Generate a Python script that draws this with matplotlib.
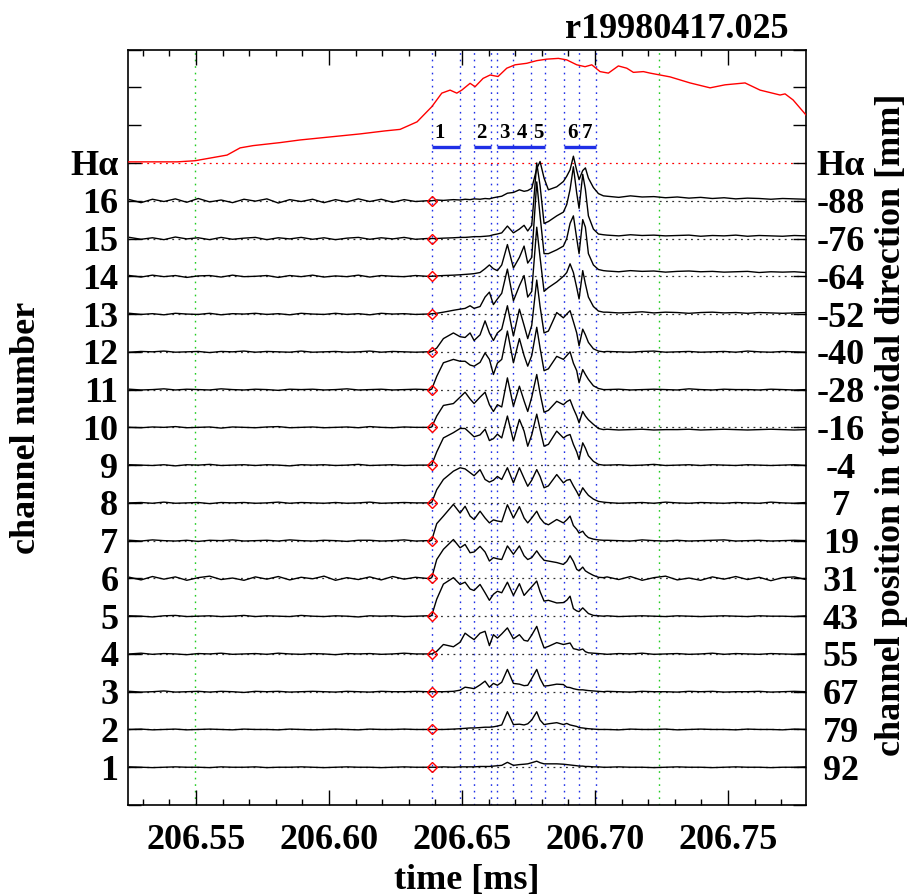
import numpy as np
import matplotlib
matplotlib.use('Agg')
import matplotlib.pyplot as plt
from matplotlib.ticker import FixedLocator, MultipleLocator
import matplotlib.transforms as mtransforms

plt.rcParams['font.family'] = ['Liberation Serif', 'DejaVu Serif']
plt.rcParams['font.weight'] = 'bold'

# ---------------- data ----------------
shot = 'r19980417.025'
x_ticks = [206.55, 206.60, 206.65, 206.70, 206.75]
left_labels = ['1', '2', '3', '4', '5', '6', '7', '8', '9', '10', '11', '12', '13', '14', '15', '16', 'Hα']
right_labels = ['92', '79', '67', '55', '43', '31', '19', '7', '-4', '-16', '-28', '-40', '-52', '-64', '-76', '-88', 'Hα']

blue_t = [206.63859, 206.64925, 206.65451, 206.66077, 206.66303, 206.66930, 206.67581,
          206.68120, 206.68847, 206.69398, 206.70025]
green_t = [206.54962, 206.72391]
burst_labels = ['1', '2', '3', '4', '5', '6', '7']
burst_label_t = [206.64148, 206.65739, 206.66591, 206.67243, 206.67870, 206.69148, 206.69687]
burst_bar_start = [206.63859, 206.65451, 206.66303, 206.68847]
burst_bar_end = [206.64925, 206.66077, 206.68120, 206.70025]

# H-alpha (amplitude above its baseline, in channel spacings)
ha_t = [206.52444, 206.54286, 206.54962, 206.56165, 206.56654, 206.57143, 206.58158, 206.58910,
        206.60038, 206.61165, 206.62105, 206.62669, 206.63308, 206.63861, 206.64237, 206.64549,
        206.64801, 206.64989, 206.65301, 206.65489, 206.65789, 206.66053, 206.66353, 206.66680,
        206.66992, 206.67432, 206.67808, 206.68184, 206.68620, 206.68936, 206.69312, 206.69624,
        206.69876, 206.70188, 206.70500, 206.70876, 206.71192, 206.71440, 206.71816, 206.72068,
        206.72820, 206.73571, 206.74323, 206.74887, 206.75639, 206.76203, 206.76955, 206.77143,
        206.77444, 206.77932]
ha_v = [0.03, 0.03, 0.06, 0.21, 0.40, 0.46, 0.54, 0.61,
        0.69, 0.77, 0.85, 0.89, 1.09, 1.49, 1.85, 1.93,
        1.85, 1.93, 2.11, 2.02, 2.24, 2.33, 2.29, 2.51,
        2.60, 2.64, 2.71, 2.75, 2.77, 2.73, 2.60, 2.55,
        2.60, 2.42, 2.38, 2.57, 2.51, 2.40, 2.42, 2.38,
        2.28, 2.12, 1.99, 2.07, 2.12, 1.93, 1.80, 1.83,
        1.67, 1.27]

# common time samples
pre_t = [206.5250, 206.5293, 206.5336, 206.5379, 206.5422, 206.5465, 206.5508, 206.5551,
         206.5594, 206.5637, 206.5680, 206.5723, 206.5766, 206.5809, 206.5852, 206.5895,
         206.5938, 206.5981, 206.6024, 206.6067, 206.6110, 206.6153, 206.6196, 206.6239,
         206.6282, 206.6325, 206.6368]
event_t = [206.63797, 206.63859, 206.64047, 206.64298, 206.64674, 206.64925, 206.65113,
           206.65301, 206.65451, 206.65676, 206.65864, 206.66027, 206.66178, 206.66328,
           206.66491, 206.66704, 206.66930, 206.67155, 206.67331, 206.67468, 206.67619,
           206.67807, 206.67932, 206.68082, 206.68245, 206.68559, 206.68809, 206.68935,
           206.69060, 206.69185, 206.69310, 206.69398, 206.69536, 206.69636, 206.69749,
           206.69937, 206.70125, 206.70313]
post_t = [206.7045, 206.7089, 206.7133, 206.7177, 206.7221, 206.7265, 206.7309, 206.7353,
          206.7397, 206.7441, 206.7485, 206.7529, 206.7573, 206.7617, 206.7661, 206.7705,
          206.7749, 206.7793]

# per channel: quiet-region values (hundredths of channel spacing) and event values
pre_ch1 = [1,0,-1,0,1,0,0,-1,1,0,0,1,-1,0,0,1,0,-1,0,1,0,0,-1,0,1,0,0]
ev_ch1 = [0,0,0,0.01,0,0.01,0.01,0.01,0.01,0.02,0.02,0.02,0.03,0.04,0.05,0.13,0.05,0.07,0.08,
          0.09,0.12,0.16,0.12,0.09,0.09,0.09,0.08,0.07,0.06,0.05,0.04,0.03,0.03,0.02,0.02,0.01,0.01,0]
post_ch1 = [0,1,0,0,-1,0,1,0,0,-1,0,1,0,0,-1,0,0,1]

pre_ch2 = [0,1,-1,0,1,-1,0,1,0,-1,1,0,0,-1,1,0,-1,0,1,0,-1,1,0,0,1,0,0]
ev_ch2 = [0,0,0,0,0.01,0.02,0.03,0.04,0.04,0.05,0.06,0.06,0.07,0.09,0.12,0.47,0.13,0.14,0.12,
          0.15,0.25,0.47,0.25,0.13,0.15,0.18,0.13,0.16,0.12,0.1,0.08,0.05,0.04,0.03,0.02,0.01,0,0]
post_ch2 = [0,-1,1,0,0,1,-1,0,1,0,0,-1,1,0,0,-1,1,0]

pre_ch3 = [1,-1,0,2,-1,0,1,-1,1,0,-2,1,0,1,-1,0,1,0,-1,1,0,-1,1,0,0,1,0]
ev_ch3 = [0,0,0,0,0.01,0.04,0.12,0.1,0.08,0.18,0.28,0.12,0.22,0.17,0.25,0.59,0.22,0.2,0.16,
          0.17,0.35,0.59,0.35,0.15,0.16,0.2,0.19,0.12,0.11,0.08,0.06,0.05,0.05,0.04,0.03,0.02,0.01,0]
post_ch3 = [1,0,-1,1,0,0,-1,1,0,1,-1,0,0,1,-1,0,1,0]

pre_ch4 = [0,2,-1,1,0,-2,1,0,2,-1,0,1,-1,2,0,-1,1,0,-2,1,0,1,-1,0,2,0,0]
ev_ch4 = [0,0,0.07,0.25,0.19,0.31,0.55,0.45,0.38,0.55,0.6,0.22,0.51,0.42,0.53,0.69,0.4,0.51,0.36,
          0.34,0.5,0.73,0.45,0.16,0.2,0.3,0.25,0.27,0.29,0.14,0.12,0.1,0.13,0.06,0.03,0.02,0.01,0]
post_ch4 = [-1,1,0,2,-1,0,1,-1,0,2,-1,1,0,-1,1,0,-1,1]

pre_ch5 = [1,0,-2,1,2,-1,0,1,-1,0,2,-1,1,0,-1,2,0,-1,1,0,-2,1,0,1,-1,0,1]
ev_ch5 = [0,0.02,0.45,0.85,1.02,0.84,0.9,0.72,0.68,0.84,0.62,0.42,0.58,0.66,0.62,0.9,0.55,0.86,0.55,
          0.66,0.78,0.93,0.65,0.4,0.42,0.35,0.36,0.42,0.53,0.2,0.14,0.12,0.22,0.15,0.07,0.02,0.01,0]
post_ch5 = [1,-1,0,1,0,-1,1,0,-1,0,1,0,-1,1,0,0,-1,1]

pre_ch6 = [3,-4,5,-2,4,-5,2,6,-3,1,-5,4,-2,5,-4,3,-1,6,-5,2,-3,4,-4,5,-2,3,0]
ev_ch6 = [0,0.02,0.5,0.77,1.03,0.81,0.9,0.68,0.7,0.85,0.7,0.46,0.55,0.52,0.5,0.86,0.64,0.86,0.6,
          0.5,0.55,0.73,0.6,0.48,0.46,0.42,0.37,0.45,0.6,0.45,0.24,0.2,0.3,0.2,0.15,0.08,0.03,0.02]
post_ch6 = [4,-3,5,-5,2,6,-4,1,-5,4,-2,5,-3,3,-6,2,4,-3]

pre_ch7 = [1,-1,2,0,-1,1,-2,1,0,2,-1,0,1,-1,2,0,-1,1,0,-2,1,1,-1,0,2,-1,0]
ev_ch7 = [0,0.01,0.45,0.65,0.96,0.73,0.91,0.65,0.56,0.78,0.6,0.47,0.55,0.52,0.5,0.95,0.6,0.9,0.6,
          0.47,0.6,0.78,0.6,0.47,0.42,0.56,0.47,0.55,0.65,0.4,0.3,0.2,0.25,0.15,0.08,0.04,0.02,0.01]
post_ch7 = [1,0,-1,2,0,-1,1,-1,0,1,2,-1,0,1,-1,0,1,0]

pre_ch8 = [0,1,-1,2,-1,0,1,-2,1,0,1,-1,0,2,-1,1,0,-1,1,-1,0,2,-1,0,1,0,0]
ev_ch8 = [0,0.01,0.35,0.62,0.84,0.93,0.9,0.8,0.72,0.88,0.62,0.55,0.6,0.7,0.62,0.93,0.53,0.93,0.65,
          0.44,0.6,0.88,0.7,0.4,0.45,0.75,0.53,0.6,0.62,0.45,0.3,0.18,0.4,0.3,0.2,0.1,0.04,0.02]
post_ch8 = [1,-1,0,1,-1,2,0,-1,1,0,-1,1,0,-1,2,0,-1,1]

pre_ch9 = [1,0,-1,1,-2,1,0,2,-1,0,1,-1,1,0,-2,1,0,1,-1,0,2,-1,0,1,-1,0,0]
ev_ch9 = [0,0.01,0.35,0.72,0.86,0.97,0.97,0.85,0.75,0.8,0.95,0.65,0.7,0.82,0.72,1.3,0.64,1.21,0.9,
          0.5,0.8,1.35,0.95,0.5,0.55,0.9,0.72,0.78,0.81,0.55,0.35,0.15,0.59,0.45,0.25,0.1,0.02,0]
post_ch9 = [0,1,-1,0,2,-1,0,1,-1,1,0,-1,1,0,-1,0,1,-1]

pre_ch10 = [0,-1,1,0,2,-1,0,1,-2,1,0,-1,1,2,-1,0,1,-1,0,1,-1,2,0,-1,1,0,0]
ev_ch10 = [0,0.01,0.3,0.58,0.63,0.8,0.93,0.75,0.63,0.8,0.93,0.6,0.42,0.6,0.54,1.31,0.56,1.09,0.7,
           0.42,0.8,1.4,0.9,0.4,0.45,0.69,0.6,0.68,0.73,0.5,0.3,0.12,0.42,0.3,0.2,0.08,-0.03,-0.06]
post_ch10 = [-5,-7,-6,-5,-7,-6,-6,-5,-7,-6,-5,-6,-7,-6,-5,-6,-7,-6]

pre_ch11 = [1,-1,0,2,-1,1,0,-1,2,0,-1,1,0,-2,1,0,1,-1,0,2,-1,0,1,-1,0,1,0]
ev_ch11 = [0,0.01,0.35,0.71,0.8,0.75,0.75,0.65,0.62,0.72,0.97,0.8,0.4,0.7,0.8,1.55,0.71,1.35,0.9,
           0.62,0.9,1.65,1.1,0.5,0.55,0.88,0.8,0.9,1.0,0.7,0.5,0.18,0.53,0.4,0.27,0.1,0.03,0]
post_ch11 = [0,1,-1,0,1,0,-1,2,0,-1,1,0,0,-1,1,0,-1,0]

pre_ch12 = [-1,1,0,2,-1,0,1,-2,1,0,2,-1,1,0,-1,2,-1,0,1,-1,0,2,-1,1,0,-1,0]
ev_ch12 = [0,0.01,0.1,0.35,0.5,0.4,0.38,0.5,0.3,0.45,0.82,0.5,0.3,0.5,0.6,1.22,0.42,1.13,0.7,
           0.35,0.7,1.9,1.2,0.5,0.55,1.04,0.9,1.0,1.09,0.8,0.5,0.16,0.6,0.45,0.25,0.08,0.02,0]
post_ch12 = [1,0,-1,1,2,-1,0,1,-1,0,1,-1,2,0,-1,1,0,-1]

pre_ch13 = [2,-1,1,-2,2,0,-1,2,-2,1,0,2,-1,1,-2,2,0,-1,2,-1,1,-2,2,0,1,-1,0]
ev_ch13 = [0,0.01,0.02,0.05,0.1,0.13,0.15,0.22,0.15,0.2,0.45,0.58,0.25,0.4,0.55,1.19,0.35,0.75,1.02,
           0.45,0.6,2.3,1.5,0.6,0.7,0.85,1.0,1.1,1.33,1.1,0.7,0.4,1.15,0.8,0.45,0.2,0.08,0.05]
post_ch13 = [5,3,4,6,3,5,4,2,4,5,3,4,2,4,3,2,3,4]

pre_ch14 = [2,-2,3,-1,2,-3,1,2,-2,3,-1,0,2,-3,2,-1,3,-2,1,-1,3,-2,2,0,-1,2,0]
ev_ch14 = [0,0,0.01,0.02,0.03,0.04,0.05,0.06,0.07,0.1,0.2,0.3,0.2,0.15,0.3,0.84,0.22,0.5,0.8,
           0.35,0.5,2.5,1.6,0.6,0.6,0.7,0.8,1.0,1.4,1.6,1.0,0.6,1.5,1.3,0.6,0.3,0.18,0.15]
post_ch14 = [14,12,15,13,14,11,13,14,12,13,11,12,13,10,12,11,12,10]

pre_ch15 = [3,-2,2,-3,4,-1,2,-3,3,-2,1,3,-3,2,-1,3,-2,2,-3,1,3,-2,2,-1,3,-2,0]
ev_ch15 = [0,0,0,0.01,0.02,0.03,0.03,0.04,0.05,0.05,0.06,0.07,0.1,0.12,0.15,0.33,0.15,0.25,0.35,
           0.2,0.35,2.0,1.4,0.4,0.45,0.6,0.7,0.9,1.3,1.9,1.2,0.8,1.7,1.3,0.6,0.25,0.12,0.1]
post_ch15 = [9,7,10,8,9,7,8,9,6,8,7,9,6,8,7,6,8,7]

pre_ch16 = [3,-5,4,-2,5,-4,6,-3,2,-5,4,-1,5,-6,3,-2,4,-5,3,-3,5,-2,4,-4,3,-2,0]
ev_ch16 = [0,0,0.02,0.01,0.03,0.02,0.04,0.03,0.05,0.04,0.06,0.05,0.08,0.1,0.12,0.2,0.22,0.29,0.25,
           0.27,0.33,0.85,1.04,0.6,0.29,0.37,0.51,0.65,0.82,1.18,0.8,0.56,0.8,0.87,0.6,0.35,0.19,0.13]
post_ch16 = [12,9,13,10,11,8,10,7,9,6,8,5,7,6,4,6,5,4]

pre_all = [pre_ch1, pre_ch2, pre_ch3, pre_ch4, pre_ch5, pre_ch6, pre_ch7, pre_ch8,
           pre_ch9, pre_ch10, pre_ch11, pre_ch12, pre_ch13, pre_ch14, pre_ch15, pre_ch16]
ev_all = [ev_ch1, ev_ch2, ev_ch3, ev_ch4, ev_ch5, ev_ch6, ev_ch7, ev_ch8,
          ev_ch9, ev_ch10, ev_ch11, ev_ch12, ev_ch13, ev_ch14, ev_ch15, ev_ch16]
post_all = [post_ch1, post_ch2, post_ch3, post_ch4, post_ch5, post_ch6, post_ch7, post_ch8,
            post_ch9, post_ch10, post_ch11, post_ch12, post_ch13, post_ch14, post_ch15, post_ch16]

# ---------------- figure ----------------
W, H = 907, 896
fig = plt.figure(figsize=(W / 100, H / 100), dpi=100)
ax = fig.add_axes([128 / W, 1 - 805 / H, (806 - 128) / W, (805 - 49.7) / H])
ax.set_xlim(206.5244, 206.7793)
ax.set_ylim(0, 20)

FS = 26
blue = '#1f2fe6'
green = '#22cc22'

for t in green_t:
    ax.axvline(t, color=green, lw=1.0, ls=(0, (1.2, 3.5)), zorder=1)
for t in blue_t:
    ax.axvline(t, color=blue, lw=1.0, ls=(0, (1.2, 3.5)), zorder=1)

n_ch = len(ev_all)
for k in range(1, n_ch + 1):
    ax.axhline(k, color='#333333', lw=0.9, ls=(0, (1.5, 3.5)), zorder=1)
ax.axhline(n_ch + 1, color='red', lw=0.9, ls=(0, (1.5, 3.5)), zorder=1)

t_all = np.array(pre_t + event_t + post_t)
for k in range(1, n_ch + 1):
    v = (np.array(pre_all[k - 1]) / 100.0).tolist() + list(ev_all[k - 1]) + \
        (np.array(post_all[k - 1]) / 100.0).tolist()
    ax.plot(t_all, k + np.array(v), color='black', lw=1.0, zorder=3)

ax.plot(ha_t, n_ch + 1 + np.array(ha_v), color='red', lw=1.0, zorder=3)

ax.plot([blue_t[0]] * n_ch, list(range(1, n_ch + 1)), ls='none', marker='D',
        markersize=5, markerfacecolor='none', markeredgecolor='red', markeredgewidth=1.0, zorder=4)

bar_y = 17.43
for s, e in zip(burst_bar_start, burst_bar_end):
    ax.plot([s, e], [bar_y, bar_y], color=blue, lw=2.4, solid_capstyle='butt', zorder=4)
for lab, t in zip(burst_labels, burst_label_t):
    ax.text(t, 17.52, lab, ha='center', va='bottom', fontsize=15, fontweight='bold', zorder=5)

# ticks
ax.xaxis.set_major_locator(FixedLocator(x_ticks))
ax.xaxis.set_minor_locator(MultipleLocator(0.01))
ax.set_xticklabels(['%.2f' % v for v in x_ticks])
ax.tick_params(axis='x', which='major', direction='in', length=10.8, width=1.0,
               top=True, bottom=True, labelsize=FS, pad=14)
ax.tick_params(axis='x', which='minor', direction='in', length=4.5, width=1.0,
               top=True, bottom=True)
yt = list(range(0, 21))
ax.yaxis.set_major_locator(FixedLocator(yt))
ylabels = ['' for _ in yt]
for i, lab in enumerate(left_labels):
    ylabels[i + 1] = lab
ax.set_yticklabels(ylabels)
ax.tick_params(axis='y', which='major', direction='in', length=9.4, width=1.0,
               left=True, right=True, labelsize=FS, pad=7)
for sp in ax.spines.values():
    sp.set_linewidth(1.2)

trans = mtransforms.blended_transform_factory(ax.transAxes, ax.transData)
xr = (841 - 128) / (806 - 128)
for i, lab in enumerate(right_labels):
    ax.text(xr, i + 1, lab, transform=trans, ha='center', va='center_baseline',
            fontsize=FS, fontweight='bold', clip_on=False)

fig.text(789 / W, 1 - 38 / H, shot, ha='right', va='baseline', fontsize=FS, fontweight='bold')
fig.text(27 / W, 1 - 428 / H, 'channel number', rotation=90, ha='center', va='center',
         fontsize=FS, fontweight='bold')
fig.text(891 / W, 1 - 425 / H, 'channel position in toroidal direction [mm]', rotation=90,
         ha='center', va='center', fontsize=FS, fontweight='bold')
fig.text(467 / W, 1 - 880 / H, 'time [ms]', ha='center', va='center', fontsize=FS, fontweight='bold')

fig.savefig('out.png', dpi=100)
